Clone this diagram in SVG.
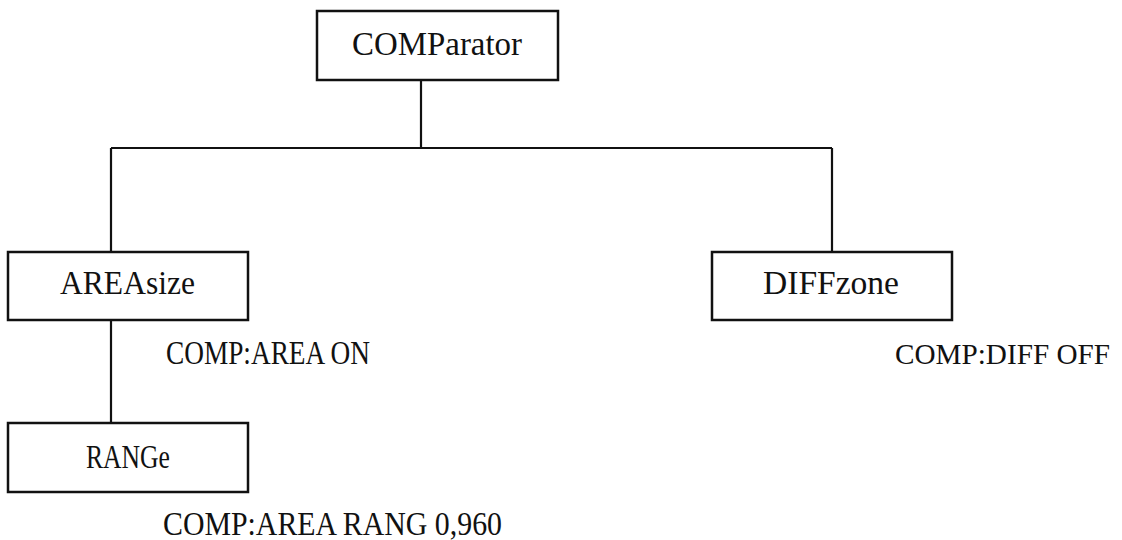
<svg xmlns="http://www.w3.org/2000/svg" width="1122" height="540" viewBox="0 0 1122 540">
<style>
.box{fill:#fff;stroke:#111;stroke-width:2.5}
.ln{fill:none;stroke:#111;stroke-width:2.2}
text{font-family:"Liberation Serif","DejaVu Serif",serif;font-size:33px;fill:#111}
text.sm{font-size:30px}
</style>
<rect width="1122" height="540" fill="#fff"/>
<g id="connectors">
<path class="ln" d="M421,80 V148 M111,148 H832 M111,148 V252 M832,148 V252 M111,320 V423"/>
</g>
<g id="node-comparator">
<rect class="box" x="317" y="11" width="241" height="69"/>
<text x="352" y="55" textLength="170" lengthAdjust="spacingAndGlyphs">COMParator</text>
</g>
<g id="node-areasize">
<rect class="box" x="8" y="252" width="240" height="68"/>
<text x="60" y="294" textLength="135" lengthAdjust="spacingAndGlyphs">AREAsize</text>
</g>
<g id="node-diffzone">
<rect class="box" x="712" y="252" width="240" height="68"/>
<text x="763" y="294" textLength="136" lengthAdjust="spacingAndGlyphs">DIFFzone</text>
</g>
<g id="node-range">
<rect class="box" x="8" y="423" width="240" height="69"/>
<text x="86" y="468" textLength="84" lengthAdjust="spacingAndGlyphs">RANGe</text>
</g>
<g id="labels">
<text x="166" y="364" textLength="204" lengthAdjust="spacingAndGlyphs">COMP:AREA ON</text>
<text class="sm" x="895" y="364" textLength="215" lengthAdjust="spacingAndGlyphs">COMP:DIFF OFF</text>
<text x="163" y="535" textLength="339" lengthAdjust="spacingAndGlyphs">COMP:AREA RANG 0,960</text>
</g>
</svg>
